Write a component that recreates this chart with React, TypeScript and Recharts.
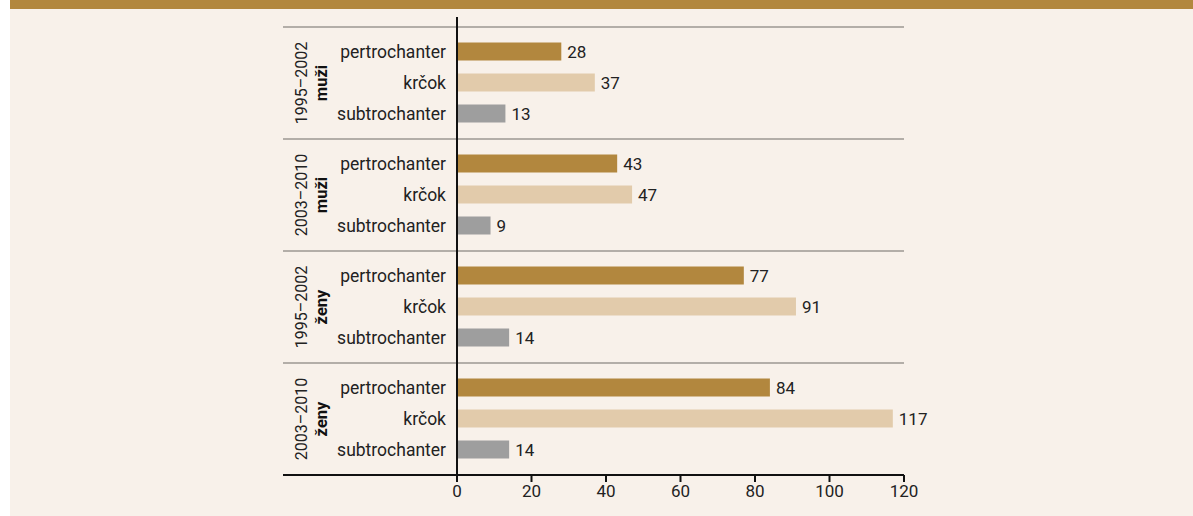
import { BarChart, Bar, XAxis, YAxis, Cell, LabelList } from 'recharts';

const PARTS = ['pertrochanter', 'krčok', 'subtrochanter'];
const PERIODS = ['1995–2002', '2003–2010', '1995–2002', '2003–2010'];
const SEXES = ['muži', 'muži', 'ženy', 'ženy'];
const PERTROCHANTER = [28, 43, 77, 84];
const KRCOK = [37, 47, 91, 117];
const SUBTROCHANTER = [13, 9, 14, 14];
const X_TICKS = [0, 20, 40, 60, 80, 100, 120];

const COLORS = ['#b2873e', '#e2cbab', '#9e9e9e'];
const BG = '#f8f1ea';
const TEXT = '#222';

// layout: rows are 31px apart, groups 112px apart, 25px from separator to the first row
const ROW_PX = 31;
const GROUP_STEP = 112 / ROW_PX;
const EDGE = 25 / ROW_PX;
const EDGE_PX = 25;

const SERIES = [PERTROCHANTER, KRCOK, SUBTROCHANTER];
const rows = PERIODS.flatMap((_, g) =>
  PARTS.map((_, p) => ({ pos: g * GROUP_STEP + p, value: SERIES[p][g], part: p, group: g }))
);
const yTicks = rows.map((r) => r.pos);
const yDomain = [-EDGE, (PERIODS.length - 1) * GROUP_STEP + 2 + EDGE];

function RowTick(props: any) {
  const { x, y, payload } = props;
  const row = rows.find((r) => Math.abs(r.pos - payload.value) < 1e-6);
  if (!row) return null;
  const axisX = x + 11;
  const last = row.group === PERIODS.length - 1;
  return (
    <g>
      {row.part === 0 && (
        <g>
          <line x1={x - 163} x2={axisX - 1} y1={y - EDGE_PX} y2={y - EDGE_PX} stroke="#b3aea8" strokeWidth={2} />
          <line x1={axisX + 1} x2={x + 458} y1={y - EDGE_PX} y2={y - EDGE_PX} stroke="#b3aea8" strokeWidth={2} />
        </g>
      )}
      {row.part === 0 && row.group === 0 && (
        <line x1={axisX} x2={axisX} y1={y - EDGE_PX - 10} y2={y - EDGE_PX} stroke="#111" strokeWidth={2} />
      )}
      {row.part === 2 && last && (
        <line x1={x - 163} x2={axisX} y1={y + EDGE_PX} y2={y + EDGE_PX} stroke="#111" strokeWidth={2} />
      )}
      <text x={x} y={y} dy="0.35em" textAnchor="end" fill={TEXT} fontSize={17.5} fontFamily="Roboto">
        {PARTS[row.part]}
      </text>
      {row.part === 1 && (
        <g>
          <text
            x={x - 145}
            y={y}
            transform={`rotate(-90, ${x - 145}, ${y})`}
            textAnchor="middle"
            dominantBaseline="central"
            fill={TEXT}
            fontSize={16}
            fontFamily="Roboto"
          >
            {PERIODS[row.group]}
          </text>
          <text
            x={x - 125}
            y={y}
            transform={`rotate(-90, ${x - 125}, ${y})`}
            textAnchor="middle"
            dominantBaseline="central"
            fill="#111"
            fontSize={16.5}
            fontWeight="bold"
            fontFamily="Roboto"
          >
            {SEXES[row.group]}
          </text>
        </g>
      )}
    </g>
  );
}

export default function App() {
  return (
    <div style={{ background: '#fff', paddingLeft: 10, width: 1183, height: 516, fontFamily: 'Roboto' }}>
      <style>{'body{margin:0}'}</style>
      <div style={{ height: 9, background: '#b2873e' }} />
      <div style={{ background: BG, height: 507 }}>
        <BarChart
          width={1183}
          height={507}
          data={rows}
          layout="vertical"
          margin={{ top: 18, right: 289, bottom: 0, left: 0 }}
        >
          <XAxis
            type="number"
            domain={[0, 120]}
            ticks={X_TICKS}
            height={41}
            tickSize={7}
            tickMargin={3}
            axisLine={{ stroke: '#111', strokeWidth: 2 }}
            tickLine={{ stroke: '#111', strokeWidth: 2 }}
            tick={{ fill: TEXT, fontSize: 17, fontFamily: 'Roboto' }}
          />
          <YAxis
            type="number"
            dataKey="pos"
            domain={yDomain}
            ticks={yTicks}
            interval={0}
            width={447}
            tickSize={0}
            tickMargin={11}
            tickLine={false}
            axisLine={{ stroke: '#111', strokeWidth: 2 }}
            tick={<RowTick />}
          />
          <Bar dataKey="value" barSize={18} isAnimationActive={false}>
            {rows.map((r, i) => (
              <Cell key={i} fill={COLORS[r.part]} />
            ))}
            <LabelList dataKey="value" position="right" offset={6} fill={TEXT} fontSize={17} fontFamily="Roboto" />
          </Bar>
        </BarChart>
      </div>
    </div>
  );
}
